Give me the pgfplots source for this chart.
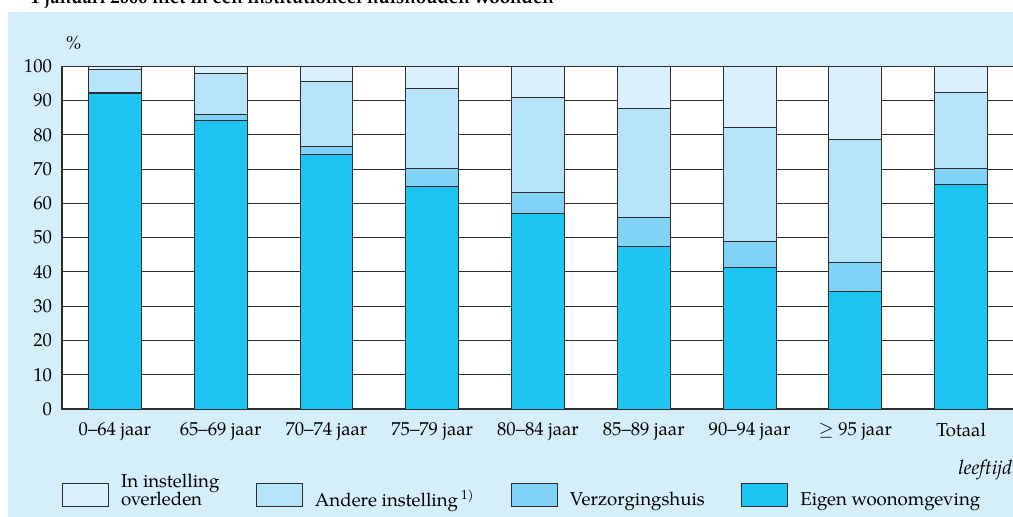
\documentclass[border=0pt]{standalone}
\usepackage{fontspec}
\setmainfont{TeX Gyre Pagella}
\usepackage{pgfplots}
\pgfplotsset{compat=1.18}
\definecolor{eigen}{RGB}{30,196,242}
\definecolor{verz}{RGB}{128,211,246}
\definecolor{andere}{RGB}{184,228,249}
\definecolor{overl}{RGB}{218,240,252}
\definecolor{panel}{RGB}{212,238,250}
\definecolor{edge}{RGB}{45,45,45}
\newcommand\twol[2]{\begin{tabular}[b]{@{}l@{}}#1\\[-2pt]#2\end{tabular}}
\begin{document}
\begin{tikzpicture}
\useasboundingbox (0,0) rectangle (759.75pt,387.75pt);
\clip (0,0) rectangle (759.75pt,387.75pt);
\fill[white] (0,0) rectangle (759.75pt,387.75pt);
\fill[panel] (6pt,0) rectangle (759.75pt,378.75pt);
\node[anchor=base west, font=\fontsize{14}{16}\selectfont\bfseries, inner sep=0] at (22.5pt,385.1pt) {1 januari 2000 niet in een institutioneel huishouden woonden};
\begin{axis}[
  at={(46.5pt,81pt)}, anchor=south west,
  scale only axis, width=714pt, height=257pt,
  ybar stacked, bar width=0.5,
  xmin=-0.5, xmax=8.5, ymin=0, ymax=100,
  ytick={0,10,...,100},
  xtick={0,...,8},
  xticklabels={0--64 jaar,65--69 jaar,70--74 jaar,75--79 jaar,80--84 jaar,85--89 jaar,90--94 jaar,$\geq$ 95 jaar,Totaal},
  major tick length=0pt,
  ymajorgrids, grid style={edge, line width=0.75pt},
  axis line style={edge, line width=0.9pt},
  axis background/.style={fill=white},
  tick label style={font=\fontsize{14}{16}\selectfont},
  /pgf/number format/assume math mode=true,
  yticklabel style={xshift=-4pt},
  xticklabel style={yshift=-7pt},
  every axis plot/.append style={draw=edge, line width=0.7pt},
  legend columns=4,
  reverse legend,
  legend style={at={(0,-0.30)}, anchor=south west, draw=none, fill=none,
    font=\fontsize{14}{16}\selectfont, inner sep=0pt,
    /tikz/every even column/.append style={column sep=25.5pt},
    /tikz/every odd column/.append style={column sep=7pt}},
  legend image code/.code={\draw[#1, draw=edge, line width=0.7pt] (0pt,-12pt) rectangle (34.5pt,5.25pt);},
  legend cell align=left,
  clip=false,
]
\addplot[fill=eigen] coordinates {(0,92.2) (1,84.2) (2,74.3) (3,64.9) (4,57.2) (5,47.3) (6,41.4) (7,34.4) (8,65.6)};
\addplot[fill=verz] coordinates {(0,0.3) (1,1.7) (2,2.4) (3,5.3) (4,6.1) (5,8.6) (6,7.6) (7,8.5) (8,4.7)};
\addplot[fill=andere] coordinates {(0,6.6) (1,12.1) (2,18.9) (3,23.2) (4,27.5) (5,31.8) (6,33.1) (7,35.7) (8,22.2)};
\addplot[fill=overl] coordinates {(0,0.9) (1,2.0) (2,4.4) (3,6.6) (4,9.2) (5,12.3) (6,17.9) (7,21.4) (8,7.5)};
\legend{{\twol{\mbox{}}{Eigen woonomgeving}},{\twol{\mbox{}}{Verzorgingshuis}},{\twol{\mbox{}}{Andere instelling\,\textsuperscript{1)}}},{\twol{In instelling}{overleden}}}
\node[anchor=base west, font=\fontsize{14}{16}\selectfont\itshape, inner sep=0] at (rel axis cs:0,1) [xshift=2.25pt, yshift=12.75pt] {\%};
\end{axis}
\node[anchor=base west, font=\fontsize{15}{17}\selectfont\itshape, inner sep=0] at (718.5pt,32pt) {leeftijd};
\end{tikzpicture}
\end{document}
